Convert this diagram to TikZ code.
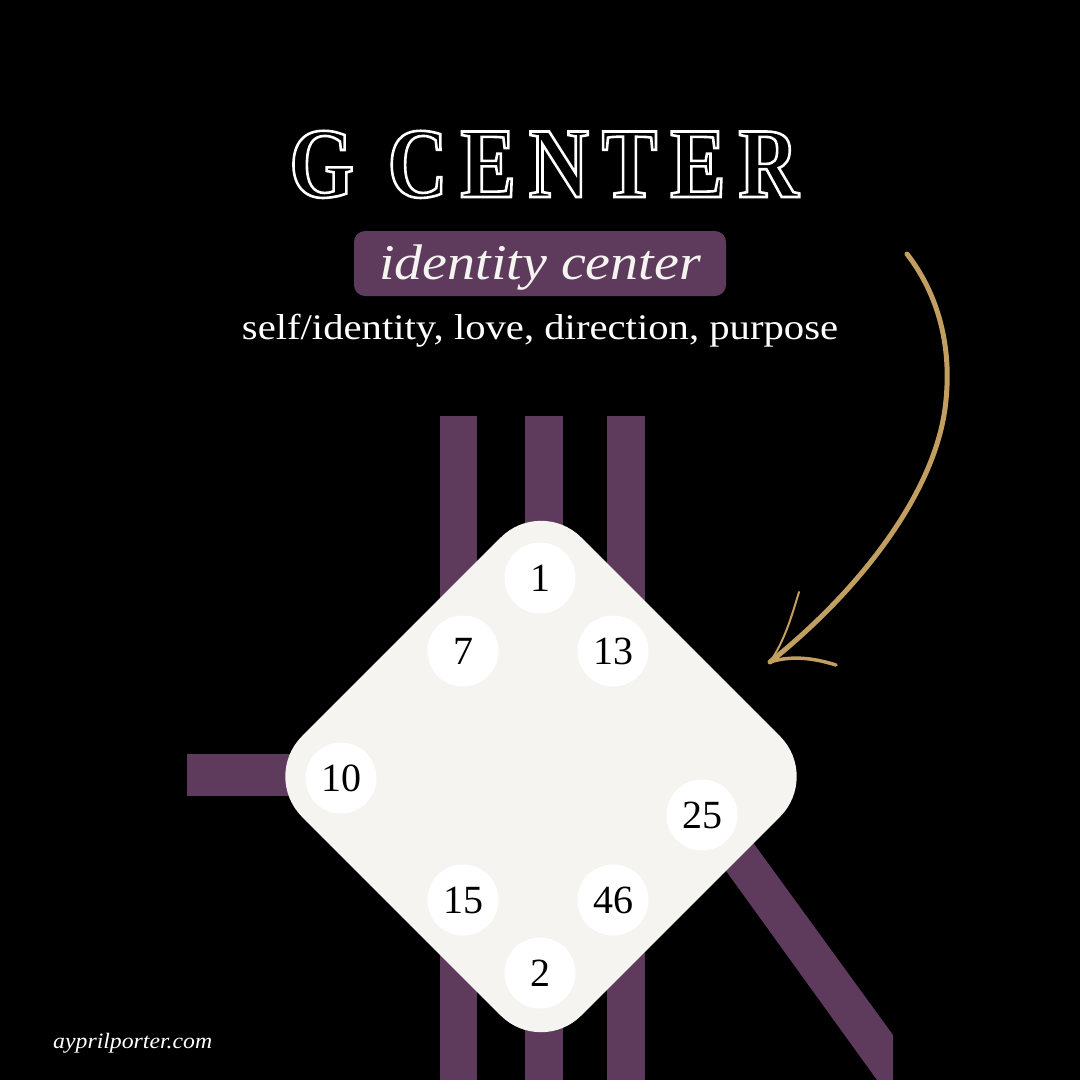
\documentclass[tikz,border=0pt]{standalone}
\usepackage{fontspec}
\setmainfont{Liberation Serif}
\newfontfamily\titlefont[FakeStretch=0.83,LetterSpace=13]{Liberation Serif Bold}
\newfontfamily\subfont[FakeStretch=1.13]{Liberation Serif}
\newfontfamily\tagfont[FakeStretch=1.12]{Liberation Serif}
\newfontfamily\footfont[FakeStretch=1.08]{Liberation Serif}
\usetikzlibrary{calc}
\definecolor{plum}{HTML}{5E3A5C}
\definecolor{paper}{HTML}{F5F4F0}
\definecolor{gold}{HTML}{C29F60}
\newcommand\outlinetext[1]{\special{pdf:literal direct 1 Tr 2.6 w}#1\special{pdf:literal direct 0 Tr}}
\begin{document}
\begin{tikzpicture}[x=1pt,y=-1pt,
  chan/.style={draw=plum, line width=37.5pt},
  numc/.style={circle, fill=white, minimum size=71pt, inner sep=0pt, text=black, font=\fontsize{40}{40}\selectfont},
  titletext/.style={anchor=base, inner sep=0pt, text=white, font=\titlefont\fontsize{100}{110}\selectfont},
  goldline/.style={draw=gold, line cap=round, line join=round}]
\fill[black] (0,0) rectangle (1080,1080);
\useasboundingbox (0,0) rectangle (1080,1080);

% channels
\coordinate (c1t) at (458.5,416); \coordinate (c1b) at (458.5,1080);
\coordinate (c2t) at (544,416);   \coordinate (c2b) at (544,1080);
\coordinate (c3t) at (626,416);   \coordinate (c3b) at (626,1080);
\coordinate (c4l) at (187,774.5); \coordinate (c4r) at (400,774.5);
\draw[chan] (c1t) -- (c1b);
\draw[chan] (c2t) -- (c2b);
\draw[chan] (c3t) -- (c3b);
\draw[plum, line width=42pt] (c4l) -- (c4r);
\coordinate (d1) at (690,821);
\coordinate (d2) at (877,1080);
\coordinate (d3) at (893,1080);
\coordinate (d4) at (893,1035);
\coordinate (d5) at (717,793);
\fill[plum] (d1) -- (d2) -- (d3) -- (d4) -- (d5) -- cycle;

% G center diamond
\node[rectangle, fill=paper, minimum width=395pt, minimum height=395pt, rounded corners=57pt, rotate=45, inner sep=0pt] (gc) at (541,776.5) {};

% gates
\node[numc] (g1)  at (540,578) {1};
\node[numc] (g7)  at (463,651) {7};
\node[numc] (g13) at (613,651) {13};
\node[numc] (g10) at (341,778) {10};
\node[numc] (g25) at (702,815) {25};
\node[numc] (g15) at (463,900) {15};
\node[numc] (g46) at (613,900) {46};
\node[numc] (g2)  at (540,973) {2};

% title
\node[titletext] (title) at (544,197) {\outlinetext{G CENTER}};

% tag
\node[fill=plum, rounded corners=11pt, minimum width=372pt, minimum height=65pt, inner sep=0pt] (tagbox) at (540,263.5) {};
\node[anchor=base, inner sep=0pt, text=paper, font=\tagfont\itshape\fontsize{50}{56}\selectfont] (tag) at (540,279) {identity center};

% subtitle
\node[anchor=base, inner sep=0pt, text=white, font=\subfont\fontsize{36}{40}\selectfont] (sub) at (540,339) {self/identity, love, direction, purpose};

% footer
\node[anchor=base west, inner sep=0pt, text=white, font=\footfont\itshape\fontsize{22}{24}\selectfont] (foot) at (53,1048) {ayprilporter.com};

% gold arrow
\coordinate (as) at (907,254);
\coordinate (am) at (946,400);
\coordinate (at) at (770,662);
\coordinate (ab1) at (799,592);
\coordinate (ab2) at (836,665);
\draw[goldline, line width=5pt] (as) .. controls (935,290) and (952,340) .. (am)
  .. controls (938,490) and (860,590) .. (at);
\draw[goldline, line width=2pt] (at) .. controls (785,640) and (792,615) .. (ab1);
\draw[goldline, line width=3.5pt] (at) .. controls (795,654) and (820,660) .. (ab2);
\end{tikzpicture}
\end{document}
